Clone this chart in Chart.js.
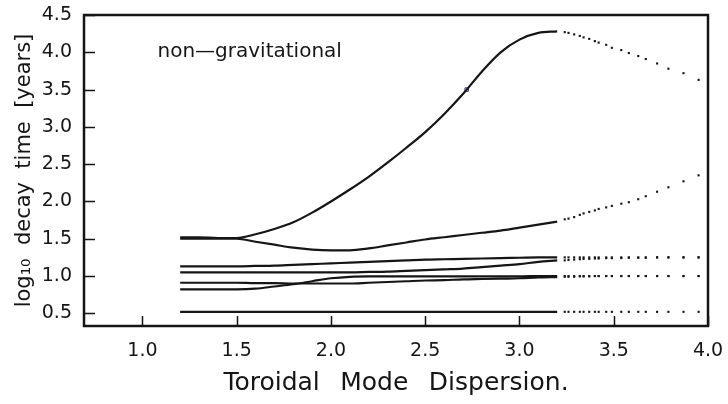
<!DOCTYPE html>
<html>
<head>
<meta charset="utf-8">
<script src="https://cdn.jsdelivr.net/npm/chart.js@4"></script>
<style>
  html, body { margin: 0; padding: 0; background: #fff; }
  #wrap { width: 728px; height: 404px; }
</style>
</head>
<body>
<div id="wrap"><canvas id="myChart" width="728" height="404"></canvas></div>
<script>
// x positions of the solid part and of the dotted tails
const xSolid = [1.2, 1.3, 1.4, 1.5, 1.6, 1.7, 1.8, 1.9, 2.0, 2.1, 2.2, 2.3, 2.4, 2.5, 2.6, 2.7, 2.8, 2.9, 3.0, 3.1, 3.2];
const tailX = [3.24, 3.26, 3.29, 3.32, 3.34, 3.37, 3.40, 3.42, 3.46, 3.49, 3.54, 3.58, 3.63, 3.67, 3.73, 3.79, 3.87, 3.95];

// log10 decay time, one curve per mode
const modeA = [1.52, 1.52, 1.51, 1.51, 1.56, 1.63, 1.72, 1.85, 2.0, 2.16, 2.33, 2.52, 2.72, 2.93, 3.17, 3.44, 3.74, 4.0, 4.17, 4.26, 4.28];
const tailA = [4.27, 4.26, 4.24, 4.22, 4.2, 4.18, 4.15, 4.13, 4.1, 4.06, 4.03, 3.99, 3.95, 3.91, 3.85, 3.78, 3.72, 3.63];
const modeB = [1.50, 1.50, 1.50, 1.50, 1.46, 1.42, 1.38, 1.355, 1.345, 1.345, 1.37, 1.41, 1.45, 1.49, 1.52, 1.55, 1.58, 1.61, 1.65, 1.69, 1.73];
const tailB = [1.76, 1.77, 1.79, 1.82, 1.84, 1.86, 1.88, 1.9, 1.92, 1.94, 1.97, 1.99, 2.03, 2.07, 2.13, 2.19, 2.27, 2.35];
const modeC = [1.13, 1.13, 1.13, 1.13, 1.135, 1.14, 1.15, 1.16, 1.17, 1.18, 1.19, 1.2, 1.21, 1.22, 1.225, 1.23, 1.235, 1.24, 1.245, 1.25, 1.25];
const tailC = [1.25, 1.25, 1.25, 1.25, 1.25, 1.25, 1.25, 1.25, 1.25, 1.25, 1.25, 1.25, 1.25, 1.25, 1.25, 1.25, 1.25, 1.25];
const modeD = [1.05, 1.05, 1.05, 1.05, 1.05, 1.05, 1.05, 1.05, 1.05, 1.05, 1.055, 1.06, 1.07, 1.08, 1.09, 1.10, 1.12, 1.14, 1.16, 1.19, 1.21];
const tailD = [1.21, 1.215, 1.22, 1.225, 1.23, 1.23, 1.235, 1.235, 1.24, 1.24, 1.24, 1.245, 1.245, 1.245, 1.25, 1.25, 1.25, 1.25];
const modeE = [0.91, 0.91, 0.91, 0.91, 0.905, 0.905, 0.90, 0.90, 0.90, 0.90, 0.91, 0.92, 0.93, 0.94, 0.945, 0.955, 0.96, 0.965, 0.97, 0.98, 0.985];
const tailE = [0.99, 0.99, 0.99, 0.995, 0.995, 0.995, 1.0, 1.0, 1.0, 1.0, 1.0, 1.0, 1.0, 1.0, 1.0, 1.0, 1.0, 1.0];
const modeF = [0.82, 0.82, 0.82, 0.82, 0.83, 0.86, 0.89, 0.93, 0.97, 0.99, 0.995, 0.995, 0.995, 0.995, 0.995, 0.995, 0.995, 0.995, 0.995, 1.0, 1.0];
const tailF = [1.0, 1.0, 1.0, 1.0, 1.0, 1.0, 1.0, 1.0, 1.0, 1.0, 1.0, 1.0, 1.0, 1.0, 1.0, 1.0, 1.0, 1.0];
const modeG = [0.52, 0.52, 0.52, 0.52, 0.52, 0.52, 0.52, 0.52, 0.52, 0.52, 0.52, 0.52, 0.52, 0.52, 0.52, 0.52, 0.52, 0.52, 0.52, 0.52, 0.52];
const tailG = [0.52, 0.52, 0.52, 0.52, 0.52, 0.52, 0.52, 0.52, 0.52, 0.52, 0.52, 0.52, 0.52, 0.52, 0.52, 0.52, 0.52, 0.52];

const markX = [2.72];
const markY = [3.5];

const xTicks = [1.0, 1.5, 2.0, 2.5, 3.0, 3.5, 4.0];
const yTicks = [0.5, 1.0, 1.5, 2.0, 2.5, 3.0, 3.5, 4.0, 4.5];

const INK = '#151515';
const FONT = "'DejaVu Sans', sans-serif";

function pts(xs, ys) {
    return xs.map((x, i) => ({ x: x, y: ys[i] }));
}

function solid(ys) {
    return {
        data: pts(xSolid, ys),
        showLine: true,
        borderColor: INK,
        borderWidth: 2.2,
        pointRadius: 0,
        cubicInterpolationMode: 'monotone',
    };
}

function dotted(ys) {
    return {
        data: pts(tailX, ys),
        showLine: false,
        pointStyle: 'rect',
        pointRadius: 1.5,
        pointBorderWidth: 0,
        pointBackgroundColor: INK,
    };
}

// inward ticks, frame and the in-plot label
const framePlugin = {
    id: 'frame',
    afterDatasetsDraw(chart) {
        const { ctx, chartArea: a, scales } = chart;
        ctx.save();
        ctx.strokeStyle = INK;
        ctx.lineWidth = 1.5;
        ctx.beginPath();
        scales.y.ticks.forEach(t => {
            const py = Math.round(scales.y.getPixelForValue(t.value)) + 0.5;
            ctx.moveTo(a.left, py);
            ctx.lineTo(a.left + 11, py);
        });
        scales.x.ticks.forEach(t => {
            const px = Math.round(scales.x.getPixelForValue(t.value)) + 0.5;
            ctx.moveTo(px, a.bottom);
            ctx.lineTo(px, a.bottom - 10);
        });
        ctx.stroke();
        ctx.lineWidth = 2.5;
        ctx.strokeRect(a.left, a.top, a.right - a.left, a.bottom - a.top);

        ctx.fillStyle = INK;
        ctx.font = "20px " + FONT;
        ctx.textAlign = 'left';
        ctx.textBaseline = 'middle';
        ctx.fillText('non\u2014gravitational', scales.x.getPixelForValue(1.08), scales.y.getPixelForValue(4.0));
        ctx.restore();
    }
};

new Chart(document.getElementById('myChart'), {
    type: 'scatter',
    data: {
        datasets: [
            solid(modeA), dotted(tailA),
            solid(modeB), dotted(tailB),
            solid(modeC), dotted(tailC),
            solid(modeD), dotted(tailD),
            solid(modeE), dotted(tailE),
            solid(modeF), dotted(tailF),
            solid(modeG), dotted(tailG),
            {
                data: pts(markX, markY),
                showLine: false,
                pointStyle: 'rect',
                pointRadius: 2.5,
                pointBorderWidth: 1,
                pointBorderColor: '#3a3a7a',
                pointBackgroundColor: 'rgba(0,0,0,0)',
            },
        ]
    },
    options: {
        responsive: false,
        animation: false,
        devicePixelRatio: 1,
        layout: {
            padding: { top: 15, right: 20, left: 0, bottom: 0 }
        },
        plugins: {
            legend: { display: false },
            tooltip: { enabled: false },
        },
        scales: {
            x: {
                type: 'linear',
                min: 0.69,
                max: 4.0,
                afterBuildTicks: (scale) => { scale.ticks = xTicks.map(v => ({ value: v })); },
                afterFit: (scale) => {
                    scale.height = 78;
                    scale.paddingLeft = 0;
                    scale.paddingRight = 0;
                },
                grid: { display: false, drawTicks: false },
                border: { display: false },
                ticks: {
                    color: INK,
                    padding: 14,
                    maxRotation: 0,
                    font: { family: FONT, size: 19 },
                    callback: (v) => Number(v).toFixed(1),
                },
                title: {
                    display: true,
                    text: 'Toroidal\u2002 Mode\u2002 Dispersion.',
                    color: INK,
                    font: { family: FONT, size: 25 },
                    padding: { top: 0, bottom: 6 },
                }
            },
            y: {
                type: 'linear',
                min: 0.33,
                max: 4.5,
                afterBuildTicks: (scale) => { scale.ticks = yTicks.map(v => ({ value: v })); },
                afterFit: (scale) => {
                    scale.width = 84;
                    scale.paddingTop = 0;
                    scale.paddingBottom = 0;
                },
                grid: { display: false, drawTicks: false },
                border: { display: false },
                ticks: {
                    color: INK,
                    padding: 12,
                    font: { family: FONT, size: 19 },
                    callback: (v) => Number(v).toFixed(1),
                },
                title: {
                    display: true,
                    text: 'log\u2081\u2080  decay  time  [years]',
                    color: INK,
                    font: { family: FONT, size: 21 },
                    padding: { top: 12, bottom: 0 },
                }
            }
        }
    },
    plugins: [framePlugin]
});
</script>
</body>
</html>
